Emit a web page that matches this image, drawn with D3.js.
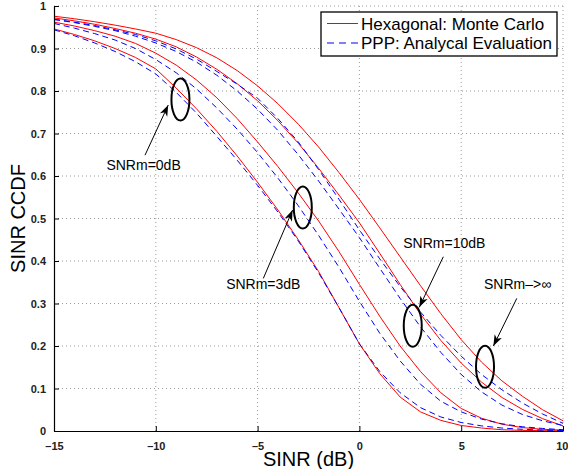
<!DOCTYPE html>
<html>
<head>
<meta charset="utf-8">
<script src="https://cdn.jsdelivr.net/npm/d3@7"></script>
<style>
  body { margin: 0; background: white; }
  svg { display: block; font-family: "Liberation Sans", Arial, sans-serif; }
</style>
</head>
<body>
<div id="chart"></div>
<script>
const sinrDb = d3.range(-15, 11)

// Hexagonal: Monte Carlo (red, solid)
const hexInf = [.976, .970, .963, .955, .946, .936, .921, .902, .878, .848, .812, .770, .722, .668, .608, .545, .478, .410, .342, .276, .215, .162, .118, .082, .050, .024]
const hex10 = [.972, .965, .957, .947, .936, .922, .904, .880, .851, .817, .777, .730, .677, .618, .555, .490, .418, .345, .275, .213, .160, .115, .079, .051, .029, .012]
const hex3 = [.962, .953, .942, .929, .912, .889, .861, .826, .784, .735, .680, .622, .560, .494, .422, .345, .270, .200, .140, .090, .053, .030, .016, .008, .004, .002]
const hex0 = [.946, .933, .918, .900, .879, .852, .807, .758, .705, .647, .585, .520, .450, .375, .290, .205, .135, .080, .045, .025, .013, .007, .003, .0015, .0007, .0003]

// PPP: analytical (blue, dashed)
const pppInf = [.969, .962, .954, .944, .933, .918, .899, .875, .846, .816, .783, .735, .680, .615, .545, .473, .405, .340, .280, .225, .176, .133, .097, .066, .040, .018]
const ppp10 = [.968, .961, .952, .942, .929, .913, .893, .868, .837, .800, .757, .707, .650, .588, .522, .455, .383, .312, .245, .185, .133, .092, .061, .039, .024, .013]
const ppp3 = [.959, .948, .935, .920, .900, .874, .843, .805, .760, .710, .655, .595, .530, .460, .385, .305, .230, .165, .110, .070, .045, .028, .017, .010, .006, .003]
const ppp0 = [.944, .930, .913, .893, .869, .840, .797, .748, .693, .637, .578, .515, .447, .372, .290, .205, .140, .090, .055, .033, .020, .012, .007, .004, .002, .001]

const xTicks = [-15, -10, -5, 0, 5, 10]
const yTicks = d3.range(0, 11).map(d => d / 10)

const legendLabels = ["Hexagonal: Monte Carlo", "PPP: Analycal Evaluation"]

// ellipses around each pair, arrows from text to ellipse (data units)
const notes = [
    { text: "SNRm=0dB", tx: -10.6, ty: 0.615, cx: -8.79, cy: 0.78, x1: -10.53, y1: 0.649, x2: -9.39, y2: 0.767 },
    { text: "SNRm=3dB", tx: -4.72, ty: 0.335, cx: -2.78, cy: 0.526, x1: -4.72, y1: 0.359, x2: -3.28, y2: 0.52 },
    { text: "SNRm=10dB", tx: 4.17, ty: 0.431, cx: 2.62, cy: 0.2475, x1: 4.12, y1: 0.41, x2: 2.94, y2: 0.291 },
    { text: "SNRm\u2013>\u221e", tx: 7.77, ty: 0.335, cx: 6.17, cy: 0.151, x1: 7.73, y1: 0.312, x2: 6.58, y2: 0.2 }
]

const width = 568
const height = 469
const margin = ({ top: 6, right: 5, bottom: 38, left: 54 })

const x = d3.scaleLinear()
    .domain([-15, 10])
    .range([margin.left, width - margin.right])

const y = d3.scaleLinear()
    .domain([0, 1])
    .range([height - margin.bottom, margin.top])

const svg = d3.select("#chart")
    .append("svg")
    .attr("width", width)
    .attr("height", height)

svg.append("rect")
    .attr("width", width)
    .attr("height", height)
    .attr("fill", "white")

// dotted grid
svg.append("g")
    .attr("stroke", "#9a9a9a")
    .attr("stroke-dasharray", "1,3")
    .selectAll("line.v")
    .data(xTicks.slice(1))
    .join("line")
    .attr("x1", d => x(d)).attr("x2", d => x(d))
    .attr("y1", y(0)).attr("y2", y(1))

svg.append("g")
    .attr("stroke", "#9a9a9a")
    .attr("stroke-dasharray", "1,3")
    .selectAll("line")
    .data(yTicks.slice(1))
    .join("line")
    .attr("x1", x(-15)).attr("x2", x(10))
    .attr("y1", d => y(d)).attr("y2", d => y(d))

const line = d3.line()
    .x((d, i) => x(sinrDb[i]))
    .y(d => y(d))

svg.append("g")
    .attr("fill", "none")
    .attr("stroke", "#ff0000")
    .attr("stroke-width", 1)
    .selectAll("path")
    .data([hexInf, hex10, hex3, hex0])
    .join("path")
    .attr("d", line)

svg.append("g")
    .attr("fill", "none")
    .attr("stroke", "#0000ff")
    .attr("stroke-width", 1)
    .attr("stroke-dasharray", "6,4")
    .selectAll("path")
    .data([pppInf, ppp10, ppp3, ppp0])
    .join("path")
    .attr("d", line)

// axes, ticks inward
svg.append("g")
    .attr("transform", `translate(0,${y(0)})`)
    .call(d3.axisBottom(x).tickValues(xTicks).tickSizeInner(-5).tickSizeOuter(0)
        .tickPadding(11).tickFormat(d => d < 0 ? "\u2013" + Math.abs(d) : d))
    .call(g => g.selectAll(".tick:last-of-type text").attr("text-anchor", "end").attr("dx", 5))

svg.append("g")
    .attr("transform", `translate(${x(-15)},0)`)
    .call(d3.axisLeft(y).tickValues(yTicks).tickSizeInner(-5).tickSizeOuter(0)
        .tickPadding(8).tickFormat(d => d3.format("~g")(d)))

svg.selectAll(".domain").attr("stroke", "black").attr("stroke-width", 1.2)
svg.selectAll(".tick line").attr("stroke", "black")
svg.selectAll(".tick text")
    .attr("font-family", "Liberation Sans, Arial, sans-serif")
    .attr("font-size", 11)
    .attr("font-weight", "bold")
    .attr("fill", "#222")

svg.append("text")
    .attr("x", (x(-15) + x(10)) / 2)
    .attr("y", 466)
    .attr("text-anchor", "middle")
    .attr("font-size", 20)
    .text("SINR (dB)")

svg.append("text")
    .attr("transform", `translate(25,${y(0.5)}) rotate(-90)`)
    .attr("text-anchor", "middle")
    .attr("font-size", 20)
    .text("SINR CCDF")

// annotations
svg.append("g")
    .attr("fill", "none")
    .attr("stroke", "black")
    .attr("stroke-width", 2)
    .selectAll("ellipse")
    .data(notes)
    .join("ellipse")
    .attr("cx", d => x(d.cx))
    .attr("cy", d => y(d.cy))
    .attr("rx", 9)
    .attr("ry", 21)

const arrows = svg.append("g")
    .selectAll("g")
    .data(notes)
    .join("g")

arrows.append("line")
    .attr("stroke", "black")
    .attr("x1", d => x(d.x1)).attr("y1", d => y(d.y1))
    .attr("x2", d => x(d.x2)).attr("y2", d => y(d.y2))

arrows.append("path")
    .attr("fill", "black")
    .attr("d", d => {
        const ax = x(d.x2), ay = y(d.y2)
        const a = Math.atan2(ay - y(d.y1), ax - x(d.x1))
        const len = 11, hw = 4, notch = 8
        const bx = ax - len * Math.cos(a), by = ay - len * Math.sin(a)
        const nx = ax - notch * Math.cos(a), ny = ay - notch * Math.sin(a)
        const px = -Math.sin(a) * hw, py = Math.cos(a) * hw
        return `M${ax},${ay}L${bx + px},${by + py}L${nx},${ny}L${bx - px},${by - py}Z`
    })

svg.append("g")
    .attr("font-size", 14)
    .attr("text-anchor", "middle")
    .selectAll("text")
    .data(notes)
    .join("text")
    .attr("x", d => x(d.tx))
    .attr("y", d => y(d.ty))
    .text(d => d.text)

// legend
const legend = svg.append("g")

legend.append("rect")
    .attr("x", 321).attr("y", 12)
    .attr("width", 236).attr("height", 44)
    .attr("fill", "white")
    .attr("stroke", "black")
    .attr("stroke-width", 1.3)

legend.selectAll("line")
    .data(legendLabels)
    .join("line")
    .attr("x1", 327).attr("x2", 358)
    .attr("y1", (d, i) => 23.5 + i * 19.5).attr("y2", (d, i) => 23.5 + i * 19.5)
    .attr("stroke", (d, i) => i ? "#0000ff" : "#ff0000")
    .attr("stroke-dasharray", (d, i) => i ? "7,5" : null)

legend.selectAll("text")
    .data(legendLabels)
    .join("text")
    .attr("x", 361)
    .attr("y", (d, i) => 29.5 + i * 19.5)
    .attr("font-size", 17)
    .text(d => d)
</script>
</body>
</html>
